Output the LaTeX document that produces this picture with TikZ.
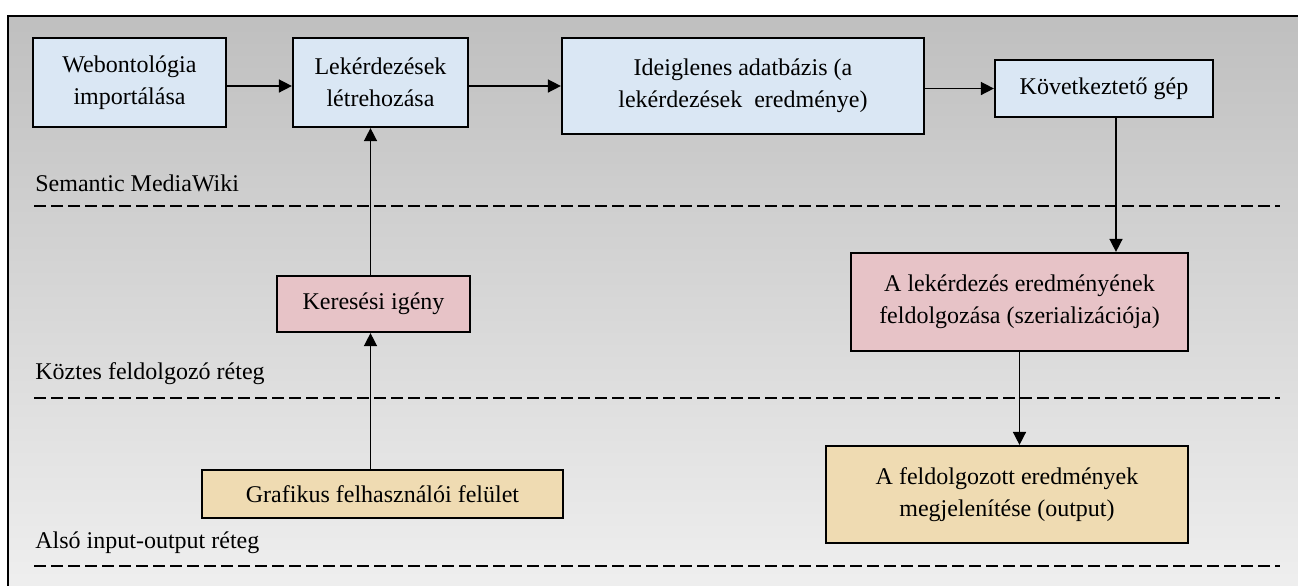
\documentclass[tikz,border=0pt]{standalone}
\usepackage{fontspec}
\setmainfont{Liberation Serif}
\usetikzlibrary{arrows.meta}

\definecolor{boxblue}{HTML}{DAE7F4}
\definecolor{boxpink}{HTML}{E7C3C7}
\definecolor{boxtan}{HTML}{EFDBB2}

\begin{document}
\begin{tikzpicture}[x=0.5pt, y=-0.5pt,
    box/.style={draw=black, line width=1.1pt, align=center, inner sep=0pt,
      font=\fontsize{12}{16}\selectfont},
    layer/.style={anchor=west, inner sep=0pt, font=\fontsize{12}{16}\selectfont},
    flow/.style={-{Triangle[length=6.5pt, width=6.5pt]}, line width=0.75pt},
    sep/.style={line width=1.2pt, dash pattern=on 6pt off 2.5pt}]
  \useasboundingbox (0,0) rectangle (1298,585);
  \fill[white] (0,0) rectangle (1298,585);

  % ── Background panel ──
  \begin{scope}
    \clip (0,0) rectangle (1298,585);
    \shade[top color=black!25, bottom color=black!6] (8,16) rectangle (1320,600);
    \draw[line width=1pt] (1320,16) -- (8,16) -- (8,600);
  \end{scope}

  % ── Layer separators and names ──
  \foreach \y in {206,398,566}{\draw[sep] (34,\y) -- (1280,\y);}
  \node[layer] (smw) at (35,183) {Semantic MediaWiki};
  \node[layer] (koztes) at (35,374) {Köztes feldolgozó réteg};
  \node[layer] (also) at (35,543) {Alsó input-output réteg};

  % ── Semantic MediaWiki boxes ──
  \node[box, fill=boxblue, minimum width=96.5pt, minimum height=44.5pt] (web)
    at (129.5,82.5) {Webontológia\\importálása};
  \node[box, fill=boxblue, minimum width=87.5pt, minimum height=44.5pt] (lekerd)
    at (380.5,82.5) {Lekérdezések\\létrehozása};
  \node[box, fill=boxblue, minimum width=181pt, minimum height=48pt] (ideig)
    at (743,86) {Ideiglenes adatbázis (a\\lekérdezések\ \ eredménye)};
  \node[box, fill=boxblue, minimum width=109pt, minimum height=28.5pt] (kovet)
    at (1104,88.5) {Következtető gép};

  % ── Middle layer ──
  \node[box, fill=boxpink, minimum width=96.5pt, minimum height=28pt] (keres)
    at (373.5,304) {Keresési igény};
  \node[box, fill=boxpink, minimum width=168.5pt, minimum height=49pt] (feldolg)
    at (1019.5,302) {A lekérdezés eredményének\\feldolgozása (szerializációja)};

  % ── Input-output layer ──
  \node[box, fill=boxtan, minimum width=180.5pt, minimum height=24pt] (graf)
    at (382.5,494) {Grafikus felhasználói felület};
  \node[box, fill=boxtan, minimum width=181pt, minimum height=48.5pt] (megjel)
    at (1007,494.5) {A feldolgozott eredmények\\megjelenítése (output)};

  % ── Arrows ──
  \draw[flow] (web.east |- 0,86) -- (lekerd.west |- 0,86);
  \draw[flow] (lekerd.east |- 0,86) -- (ideig.west |- 0,86);
  \draw[flow] (ideig.east |- kovet.west) -- (kovet.west);
  \draw[flow] ([xshift=-1.5pt]keres.north) -- ([xshift=-1.5pt]keres.north |- lekerd.south);
  \draw[flow] ([xshift=-1.5pt]keres.south |- graf.north) -- ([xshift=-1.5pt]keres.south);
  \draw[flow] ([xshift=6pt]kovet.south) -- ([xshift=6pt]kovet.south |- feldolg.north);
  \draw[flow] (feldolg.south) -- (feldolg.south |- megjel.north);
\end{tikzpicture}
\end{document}
